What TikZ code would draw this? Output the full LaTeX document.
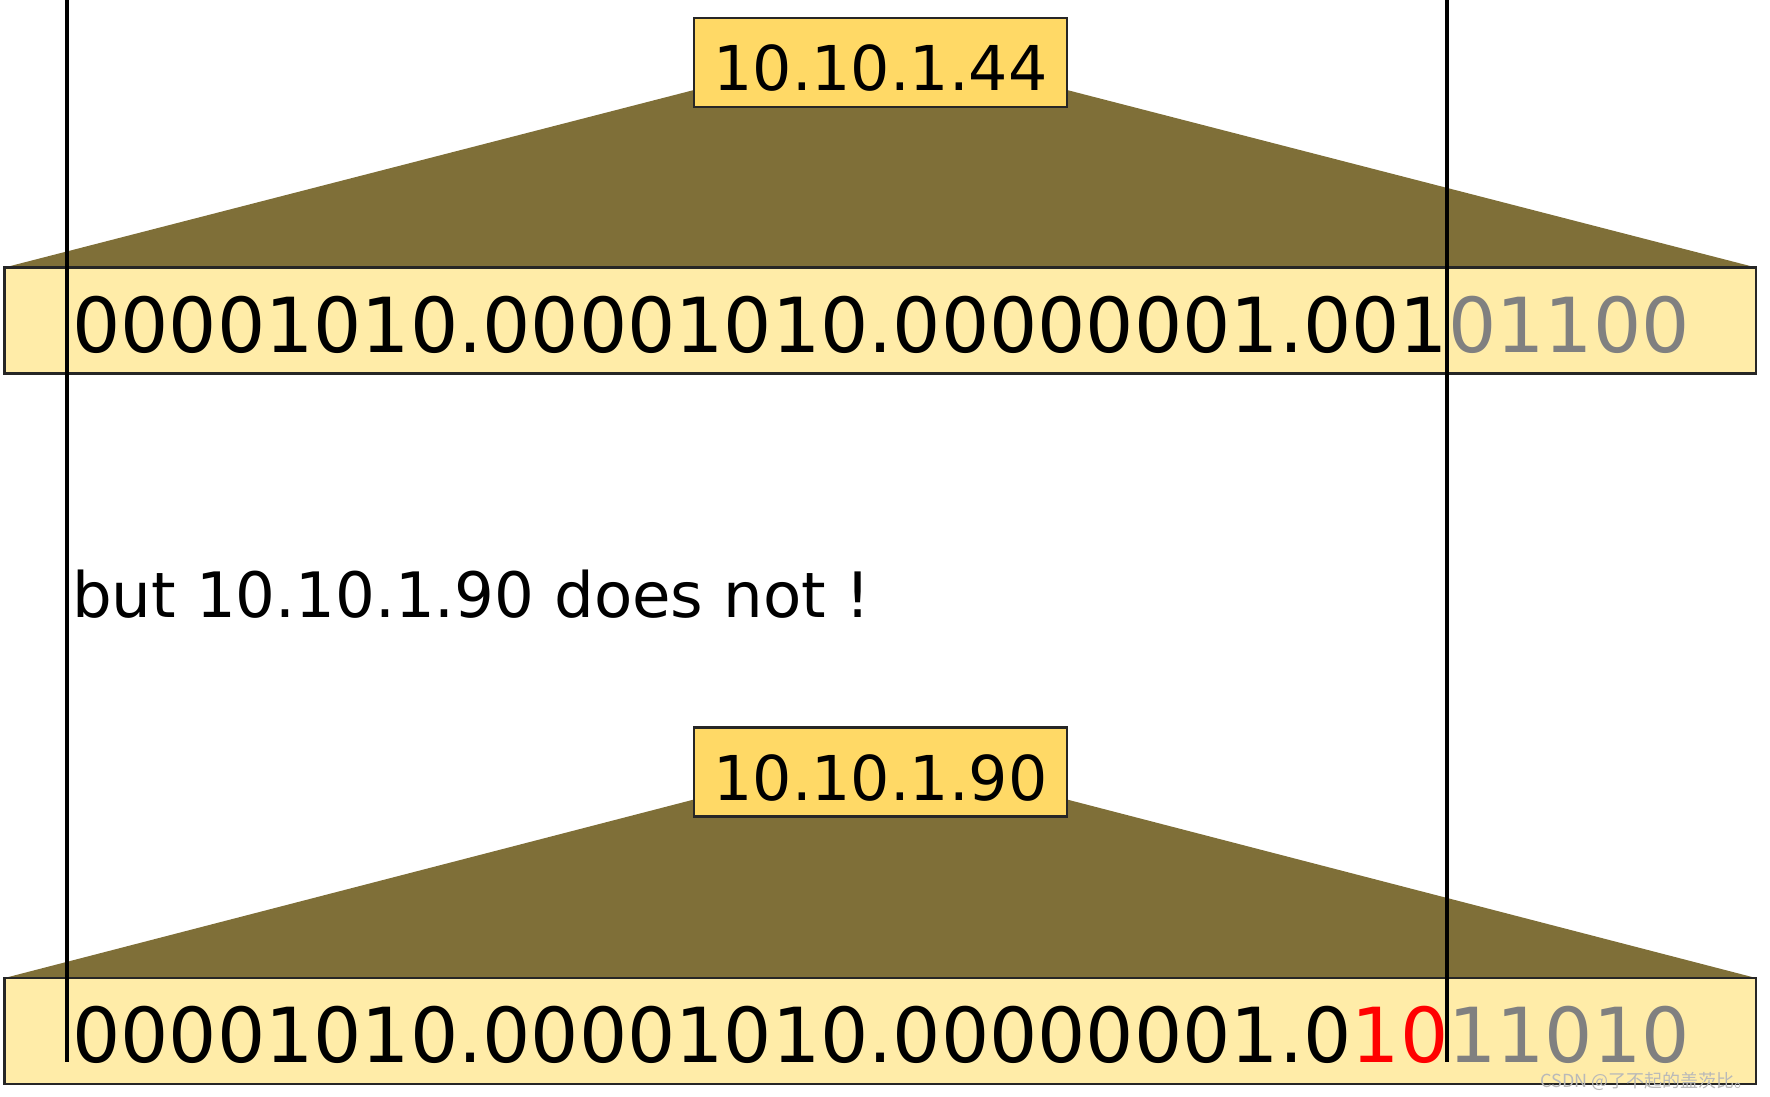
\documentclass[tikz,border=0pt]{standalone}
\usepackage{fontspec}
\setmainfont{DejaVu Sans}
\newfontfamily\cjk{Noto Sans CJK SC}
\definecolor{trapfill}{RGB}{127,111,56}
\definecolor{ipfill}{RGB}{255,217,102}
\definecolor{binfill}{RGB}{255,236,168}
\definecolor{hostgray}{RGB}{128,128,128}
\definecolor{diffred}{RGB}{255,0,0}
\begin{document}
\begin{tikzpicture}[x=1pt,y=-1pt,
  binbox/.style={draw=black!85, line width=2.2pt, fill=binfill, minimum width=1751.5pt, minimum height=106pt, inner sep=0pt, outer sep=0pt},
  ipbox/.style={draw=black!85, line width=2.2pt, fill=ipfill, minimum width=373pt, minimum height=89pt, inner sep=0pt, outer sep=0pt},
  bintext/.style={font=\fontsize{75.9}{80}\selectfont, inner sep=0pt, anchor=base west},
  iptext/.style={font=\fontsize{61.8}{66}\selectfont, inner sep=0pt, anchor=base},
  note/.style={font=\fontsize{62.6}{66}\selectfont, inner sep=0pt, anchor=base west},
  wedge/.style={fill=trapfill},
  cut/.style={line width=4pt, black}]
\useasboundingbox (0,0) rectangle (1770,1096);
% top group
\node[binbox] (bin1) at (880.25,320.5) {};
\node[ipbox] (ip1) at (880.5,62.5) {};
\fill[wedge] (bin1.north west) -- ([yshift=17pt]ip1.south west) -- ([yshift=17pt]ip1.south east) -- (bin1.north east) -- cycle;
\node[binbox] at (bin1) {};
\node[ipbox] at (ip1) {};
\node[iptext] (ip1t) at (880.5,90.5) {10.10.1.44};
\node[bintext] (bin1t) at (72,352) {00001010.00001010.00000001.001\textcolor{hostgray}{01100}};
% note
\node[note] (msg) at (72,617.5) {but 10.10.1.90 does not !};
% bottom group
\node[binbox] (bin2) at (880.25,1031) {};
\node[ipbox] (ip2) at (880.5,772) {};
\fill[wedge] (bin2.north west) -- ([yshift=17pt]ip2.south west) -- ([yshift=17pt]ip2.south east) -- (bin2.north east) -- cycle;
\node[binbox] at (bin2) {};
\node[ipbox] at (ip2) {};
\node[iptext] (ip2t) at (880.5,800) {10.10.1.90};
\node[bintext] (bin2t) at (72,1062) {00001010.00001010.00000001.0\textcolor{diffred}{10}\textcolor{hostgray}{11010}};
% mask boundary lines
\coordinate (l1top) at (66.6,0);
\coordinate (l1bot) at (66.6,1062);
\coordinate (l2top) at (1447,0);
\coordinate (l2bot) at (1447,1062);
\draw[cut] (l1top) -- (l1bot);
\draw[cut] (l2top) -- (l2bot);
% watermark
\node[font=\cjk\fontsize{18}{19}\selectfont, text=gray!55, anchor=base east, inner sep=0pt] (wm) at (1753,1087) {CSDN @了不起的盖茨比。};
\end{tikzpicture}
\end{document}
